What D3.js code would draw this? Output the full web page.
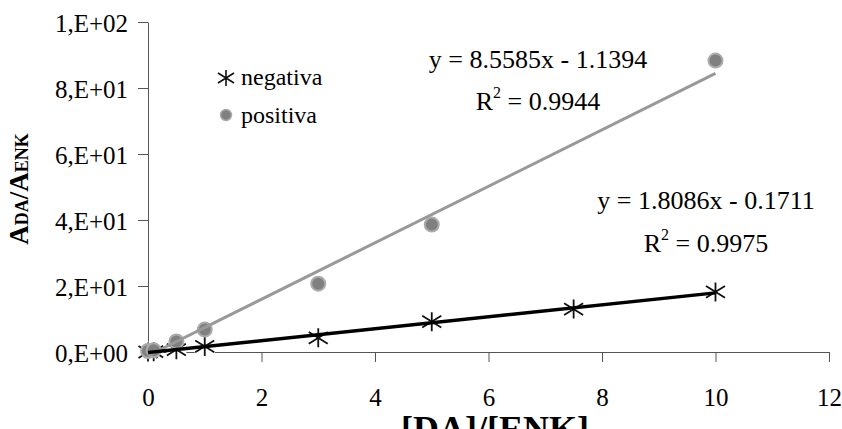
<!DOCTYPE html>
<html>
<head>
<meta charset="utf-8">
<script src="https://cdn.jsdelivr.net/npm/d3@7"></script>
<style>
  html, body { margin: 0; padding: 0; background: #fff; }
  svg { display: block; }
  svg text { font-family: "Liberation Serif", Tinos, "Times New Roman", "DejaVu Serif", serif; }
</style>
</head>
<body>
<svg id="chart" width="842" height="429"></svg>
<script>
// Concentration ratio [DA]/[ENK]
const negX = [0, 0.1, 0.5, 1, 3, 5, 7.5, 10];
const negY = [0.0, 0.1, 0.7, 1.7, 4.3, 9.2, 13.0, 18.2];
const posX = [0, 0.1, 0.5, 1, 3, 5, 10];
const posY = [0.3, 0.5, 3.2, 6.8, 20.7, 38.6, 88.3];

// Linear fits (slope, intercept, R²)
const negFit = { slope: 1.8086, intercept: -0.1711, r2: "0.9975" };
const posFit = { slope: 8.5585, intercept: -1.1394, r2: "0.9944" };

const xTicks = [0, 2, 4, 6, 8, 10, 12];
const yTicks = [0, 20, 40, 60, 80, 100];
const yTickLabels = ["0,E+00", "2,E+01", "4,E+01", "6,E+01", "8,E+01", "1,E+02"];
const seriesNames = ["negativa", "positiva"];

const serif = '"Liberation Serif", Tinos, "Times New Roman", "DejaVu Serif", serif';

const svg = d3.select("#chart").attr("font-family", serif);
const x = d3.scaleLinear().domain([0, 12]).range([148, 829]);
const y = d3.scaleLinear().domain([0, 100]).range([352, 22]);

const axisColor = "#555";
const fontSize = 25;

// Y axis
const yAxis = svg.append("g")
  .attr("transform", `translate(${x(0)},0)`)
  .call(d3.axisLeft(y).tickValues(yTicks).tickSize(10).tickSizeOuter(0)
    .tickFormat((d, i) => yTickLabels[i]).tickPadding(10))
  .attr("font-family", serif).attr("font-size", fontSize);
yAxis.select(".domain").attr("stroke", axisColor);
yAxis.selectAll(".tick line").attr("stroke", axisColor);
yAxis.selectAll(".tick text").attr("fill", "#000").attr("dy", "0.36em");

// X axis
const xAxis = svg.append("g")
  .attr("transform", `translate(0,${y(0)})`)
  .call(d3.axisBottom(x).tickValues(xTicks).tickSize(10).tickSizeOuter(0)
    .tickFormat(d3.format("d")))
  .attr("font-family", serif).attr("font-size", fontSize);
xAxis.select(".domain").attr("stroke", axisColor);
xAxis.selectAll(".tick line").attr("stroke", axisColor);
xAxis.selectAll(".tick text").attr("fill", "#000").attr("y", 54).attr("dy", 0);

// Axis titles
svg.append("text")
  .attr("x", 495).attr("y", 441)
  .attr("text-anchor", "middle")
  .attr("font-size", 36).attr("font-weight", "bold")
  .text("[DA]/[ENK]");

const yTitle = svg.append("text")
  .attr("transform", "translate(28,189) rotate(-90)")
  .attr("text-anchor", "middle")
  .attr("font-size", 27).attr("font-weight", "bold");
yTitle.append("tspan").text("A");
yTitle.append("tspan").attr("font-size", 18).text("DA");
yTitle.append("tspan").text("/A");
yTitle.append("tspan").attr("font-size", 18).text("ENK");

// Asterisk marker: vertical stroke plus two diagonals
function asteriskPath(r) {
  return `M0,${-r}L0,${r}M${-r},${-r * 0.62}L${r},${r * 0.62}M${-r},${r * 0.62}L${r},${-r * 0.62}`;
}

const negPts = negX.map((v, i) => [v, negY[i]]);
const posPts = posX.map((v, i) => [v, posY[i]]);

// Negative series markers (white backing hides the axis beneath)
const negG = svg.append("g");
negG.selectAll("rect").data(negPts).join("rect")
  .attr("x", d => x(d[0]) - 10).attr("y", d => y(d[1]) - 10)
  .attr("width", 20).attr("height", 20).attr("fill", "#fff");
negG.selectAll("path").data(negPts).join("path")
  .attr("transform", d => `translate(${x(d[0])},${y(d[1])})`)
  .attr("d", asteriskPath(9.5))
  .attr("stroke", "#111").attr("stroke-width", 1.8).attr("fill", "none");

// Positive series markers
svg.append("g").selectAll("circle").data(posPts).join("circle")
  .attr("cx", d => x(d[0])).attr("cy", d => y(d[1])).attr("r", 7)
  .attr("fill", "#808080").attr("stroke", "#ababab").attr("stroke-width", 2);

// Trend lines
function fitLine(fit) {
  return d3.line().x(d => x(d)).y(d => y(fit.slope * d + fit.intercept))([0, 10]);
}
svg.append("path").attr("d", fitLine(posFit))
  .attr("stroke", "#999").attr("stroke-width", 3).attr("fill", "none");
svg.append("path").attr("d", fitLine(negFit))
  .attr("stroke", "#000").attr("stroke-width", 3.5).attr("fill", "none");

// Equation labels
function fmtEq(fit) {
  const sign = fit.intercept < 0 ? " - " : " + ";
  return `y = ${fit.slope.toFixed(4)}x${sign}${Math.abs(fit.intercept).toFixed(4)}`;
}
function eqLabel(fit, cx, y1, y2) {
  svg.append("text").attr("x", cx).attr("y", y1).attr("text-anchor", "middle")
    .attr("font-size", 26).text(fmtEq(fit));
  const t = svg.append("text").attr("x", cx).attr("y", y2).attr("text-anchor", "middle")
    .attr("font-size", 26);
  t.append("tspan").text("R");
  t.append("tspan").attr("font-size", 16).attr("dy", -12).text("2");
  t.append("tspan").attr("dy", 12).text(" = " + fit.r2);
}
eqLabel(posFit, 538, 68, 110);
eqLabel(negFit, 706, 209, 252);

// Legend
const leg = svg.append("g");
leg.append("path").attr("transform", "translate(226,78)")
  .attr("d", asteriskPath(8))
  .attr("stroke", "#111").attr("stroke-width", 1.6).attr("fill", "none");
leg.append("text").attr("x", 241).attr("y", 85).attr("font-size", 24).text(seriesNames[0]);
leg.append("circle").attr("cx", 226).attr("cy", 115).attr("r", 5.5)
  .attr("fill", "#808080").attr("stroke", "#ababab").attr("stroke-width", 1.5);
leg.append("text").attr("x", 241).attr("y", 123).attr("font-size", 24).text(seriesNames[1]);
</script>
</body>
</html>
